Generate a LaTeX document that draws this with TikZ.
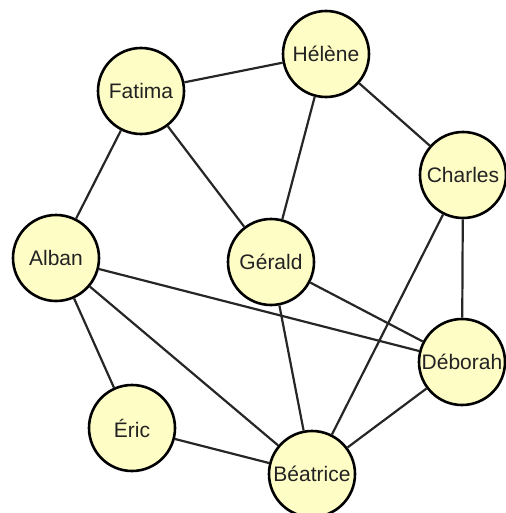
\documentclass[tikz,border=0pt]{standalone}
\usepackage{fontspec}
\setmainfont{Liberation Sans}
\definecolor{nodefill}{HTML}{FFFDC6}
\definecolor{txt}{HTML}{222222}
\begin{document}
\begin{tikzpicture}[x=1pt,y=-1pt,
  person/.style={circle,draw=black,line width=2.6pt,fill=nodefill,minimum size=86pt,inner sep=0pt,text=txt,font=\fontsize{21}{25}\selectfont},
  link/.style={line width=2.2pt,draw=black!85}]
\useasboundingbox (0,0) rectangle (505,513);
\node[person] (fatima) at (141,91) {Fatima};
\node[person] (helene) at (326,54) {Hélène};
\node[person] (charles) at (463,175) {Charles};
\node[person] (alban) at (56,258) {Alban};
\node[person] (gerald) at (271,262) {Gérald};
\node[person] (deborah) at (462,362) {Déborah};
\node[person] (eric) at (132,428) {Éric};
\node[person] (beatrice) at (312,474) {Béatrice};
\foreach \a/\b in {fatima/helene,fatima/alban,fatima/gerald,helene/gerald,helene/charles,charles/beatrice,charles/deborah,alban/deborah,alban/beatrice,alban/eric,gerald/deborah,gerald/beatrice,eric/beatrice,deborah/beatrice}
  \draw[link] (\a) -- (\b);
\end{tikzpicture}
\end{document}
